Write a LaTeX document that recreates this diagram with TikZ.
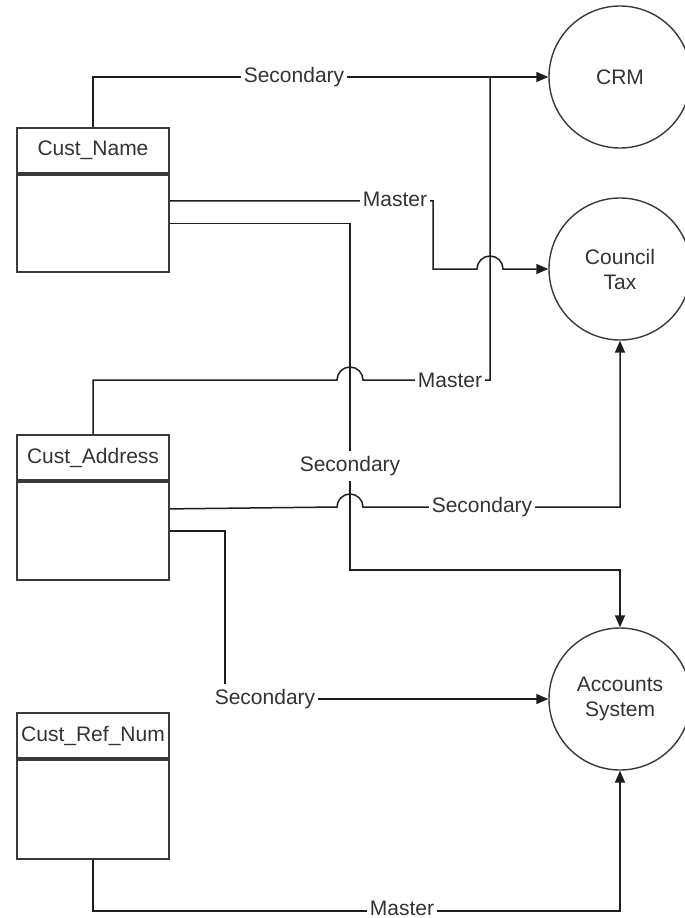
\documentclass[tikz,border=0pt]{standalone}
\usepackage{fontspec}
\setmainfont{Liberation Sans}
\usetikzlibrary{arrows.meta}
\definecolor{boxc}{HTML}{3A3A3A}
\definecolor{linec}{HTML}{1E1E1E}
\definecolor{txt}{HTML}{333333}
\begin{document}
\begin{tikzpicture}[x=1pt,y=-1pt,
  font=\fontsize{21}{25}\selectfont,
  tbl/.style={draw=boxc, line width=1.9pt, minimum width=152pt, inner sep=0pt, text=txt},
  proc/.style={circle, draw=boxc, line width=1.4pt, minimum size=142pt, inner sep=0pt, align=center, text=txt},
  conn/.style={draw=linec, line width=1.5pt},
  arr/.style={conn, -{Triangle[length=12pt,width=10pt]}},
  lbl/.style={fill=white, inner xsep=3pt, inner ysep=5pt, text=txt}
]
\fill[white] (0,0) rectangle (685,918);
\clip (0,0) rectangle (685,918);

% tables
\node[tbl, minimum height=45pt] (cn) at (93,150.5) {Cust\_Name};
\node[tbl, minimum height=97pt, anchor=north] (cnb) at (cn.south) {};
\node[tbl, minimum height=45pt] (ca) at (93,457.5) {Cust\_Address};
\node[tbl, minimum height=98pt, anchor=north] (cab) at (ca.south) {};
\node[tbl, minimum height=45pt] (cr) at (93,735.5) {Cust\_Ref\_Num};
\node[tbl, minimum height=99pt, anchor=north] (crb) at (cr.south) {};

% processes
\node[proc] (crm) at (620,77) {CRM};
\node[proc] (ct) at (620,269) {Council\\Tax};
\node[proc] (acc) at (620,699) {Accounts\\System};

% connectors
\coordinate (j) at (490,77);
\draw[arr] (cn.north) |- (crm.west);
\draw[arr] ([yshift=22.5pt]cnb.east) -| (433,269) -- (477,269)
   arc[start angle=180,end angle=0,radius=13pt] -- (ct.west);
\draw[arr] (cnb.east) -| (350,570) -| (acc.north);
\draw[conn] (ca.north) |- (337,380) arc[start angle=180,end angle=0,radius=13pt]
   -| (j);
\draw[arr] ([yshift=22pt]cab.east) -- (337,507)
   arc[start angle=180,end angle=0,radius=13pt] -| (ct.south);
\draw[arr] (cab.east) -| (225,699) -- (acc.west);
\draw[arr] (crb.south) -- ++(0,51) -| (acc.south);

% labels
\node[lbl] (l1) at (294,77) {Secondary};
\node[lbl] (l2) at (395,199) {Master};
\node[lbl] (l3) at (350,466) {Secondary};
\node[lbl] (l4) at (450,380) {Master};
\node[lbl] (l5) at (482,507) {Secondary};
\node[lbl] (l6) at (265,699) {Secondary};
\node[lbl] (l7) at (402,908) {Master};
\end{tikzpicture}
\end{document}
